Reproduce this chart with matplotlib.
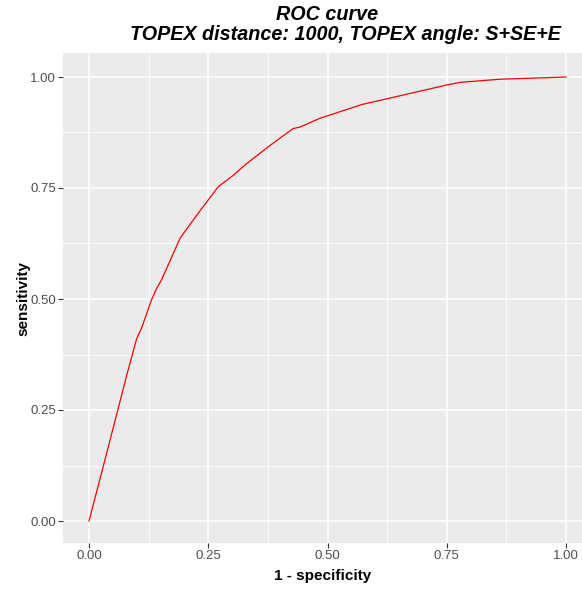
import matplotlib
matplotlib.use("Agg")
import matplotlib.pyplot as plt
from matplotlib.ticker import MultipleLocator

plt.rcParams['font.family'] = ['Liberation Sans', 'DejaVu Sans']

fpr = [0.0, 0.040, 0.081, 0.100, 0.110, 0.131, 0.142, 0.152, 0.191, 0.226, 0.271,
       0.303, 0.327, 0.376, 0.428, 0.442, 0.484, 0.572, 0.750, 0.778, 0.862, 1.0]
tpr = [0.0, 0.165, 0.336, 0.411, 0.434, 0.498, 0.524, 0.543, 0.637, 0.689, 0.753,
       0.779, 0.802, 0.843, 0.884, 0.887, 0.907, 0.938, 0.982, 0.988, 0.995, 1.0]
ticks = [0.0, 0.25, 0.5, 0.75, 1.0]
tick_labels = ["0.00", "0.25", "0.50", "0.75", "1.00"]

W, H = 582, 589
fig = plt.figure(figsize=(W/100, H/100), dpi=100)
ax = fig.add_axes([63/W, (H-543)/H, (582-63)/W, (543-53)/H])
ax.set_facecolor('#EBEBEB')
for s in ax.spines.values():
    s.set_visible(False)

ax.plot(fpr, tpr, color='red', lw=0.9, zorder=3)

ax.set_xlim(-26/477, 1 + 16/477)
ax.set_ylim(-22/444, 1 + 24/444)
ax.set_xticks(ticks)
ax.set_xticklabels(tick_labels)
ax.set_yticks(ticks)
ax.set_yticklabels(tick_labels)
ax.xaxis.set_minor_locator(MultipleLocator(0.125))
ax.yaxis.set_minor_locator(MultipleLocator(0.125))
ax.grid(which='major', color='white', lw=1.1)
ax.grid(which='minor', color='white', lw=0.55)
ax.set_axisbelow(True)
ax.tick_params(which='major', length=3.5, width=0.8, color='#333333',
               labelcolor='#4D4D4D', labelsize=9.5, pad=1.5)
ax.tick_params(which='minor', length=0)

ax.set_xlabel('1 - specificity', fontsize=11, fontweight='bold', labelpad=5)
ax.set_ylabel('sensitivity', fontsize=11, fontweight='bold', labelpad=0)

fig.text(327/W, 1-15/H, 'ROC curve', ha='center', va='center', fontsize=14.2,
         fontweight='bold', style='italic')
fig.text(345/W, 1-35/H, 'TOPEX distance: 1000, TOPEX angle: S+SE+E', ha='center',
         va='center', fontsize=14.2, fontweight='bold', style='italic')

fig.savefig('out.png', dpi=100, facecolor='white')
